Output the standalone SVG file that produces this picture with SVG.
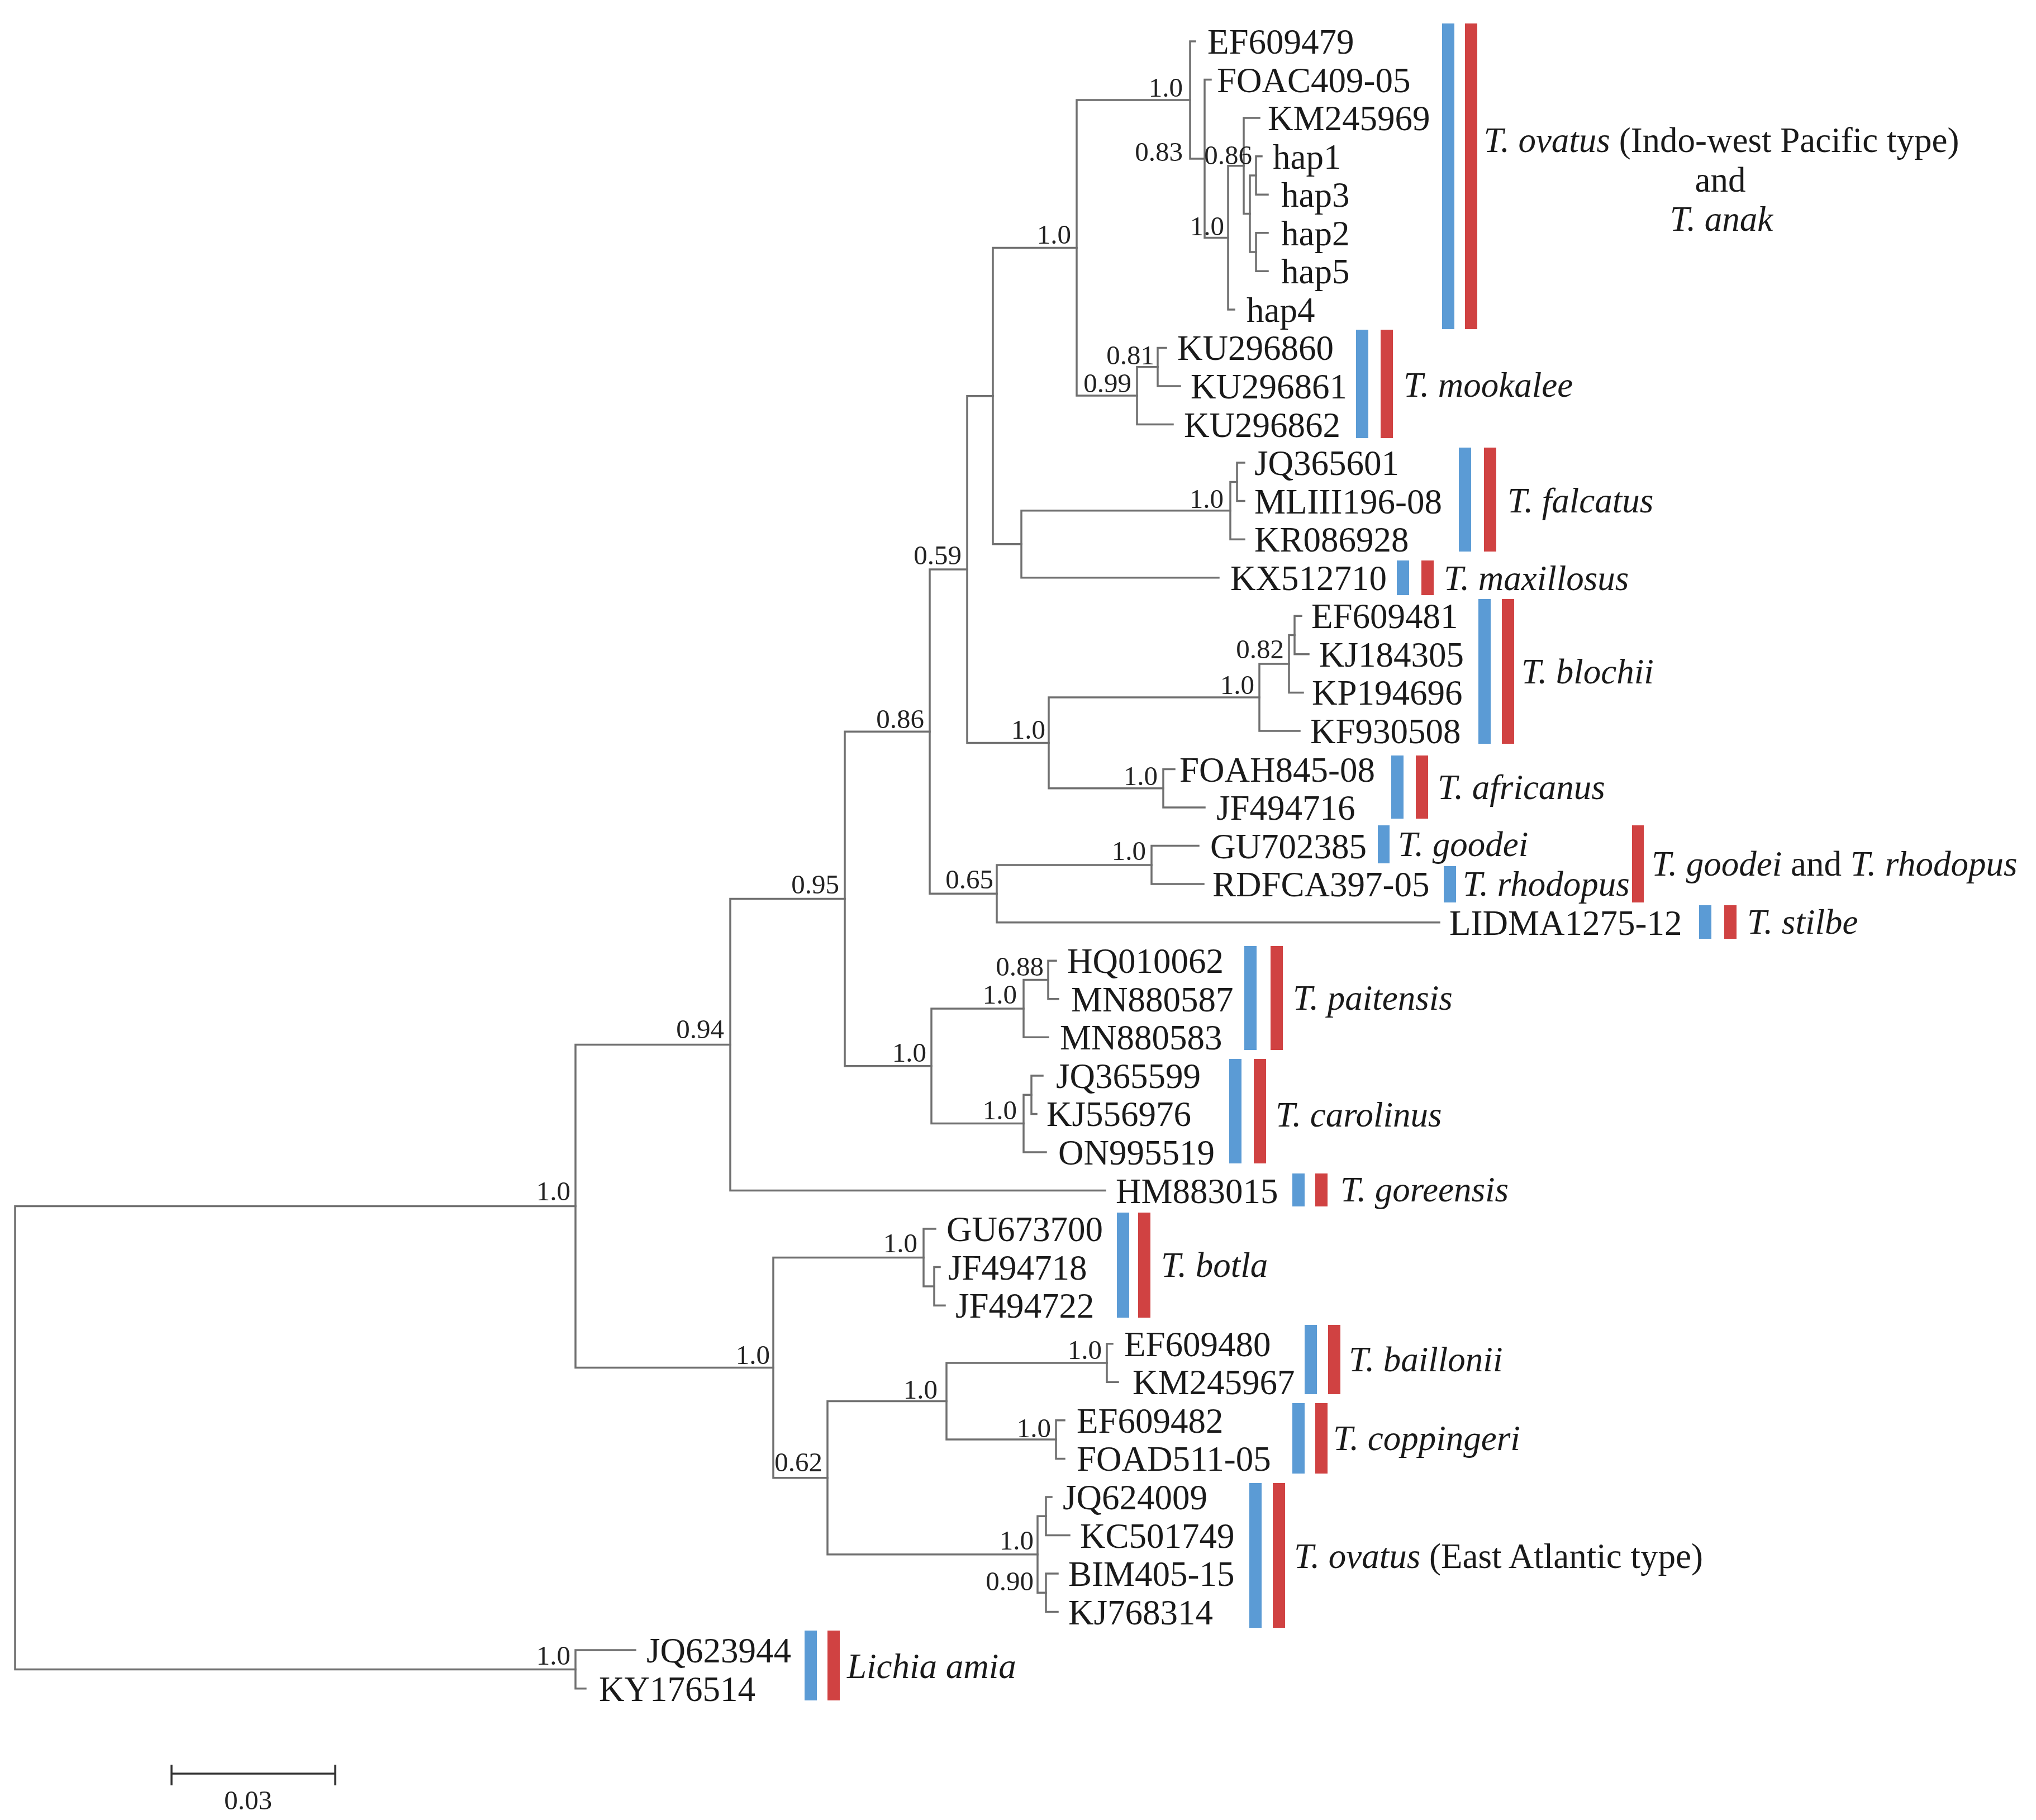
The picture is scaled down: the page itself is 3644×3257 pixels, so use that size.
<svg xmlns="http://www.w3.org/2000/svg" width="3644" height="3257" viewBox="0 0 3644 3257">
<style>
.t{font-family:"Liberation Serif","Times New Roman",serif;font-size:63px;fill:#1a1a1a}
.s{font-family:"Liberation Serif","Times New Roman",serif;font-size:49px;fill:#222;text-anchor:end}
.i{font-style:italic}
.b{fill:#5b9bd5}
.r{fill:#d04242}
.br{fill:none;stroke:#707070;stroke-width:3.5;stroke-linecap:square}
</style>
<rect width="3644" height="3257" fill="#fff"/>
<g id="connectors" class="br">
<path d="M27 2158.6V2987.4M27 2158.6H1030M27 2987.4H1030"/>
<path d="M1030 2953.1V3021.7M1030 2953.1H1137M1030 3021.7H1048"/>
<path d="M1030 1869.5V2447.6M1030 1869.5H1307M1030 2447.6H1384"/>
<path d="M1307 1608.5V2130.5M1307 1608.5H1512M1307 2130.5H1978"/>
<path d="M1512 1309.2V1907.7M1512 1309.2H1664M1512 1907.7H1667"/>
<path d="M1664 1019V1599.3M1664 1019H1731M1664 1599.3H1784"/>
<path d="M1731 708.7V1329.4M1731 708.7H1777M1731 1329.4H1877"/>
<path d="M1777 443.6V973.8M1777 443.6H1927M1777 973.8H1828"/>
<path d="M1927 179V708.1M1927 179H2130M1927 708.1H2035"/>
<path d="M2130 74V284M2130 74H2139M2130 284H2156"/>
<path d="M2156 142.6V425.4M2156 142.6H2167M2156 425.4H2198"/>
<path d="M2198 296.8V553.9M2198 296.8H2226M2198 553.9H2209"/>
<path d="M2226 211.1V382.5M2226 211.1H2254M2226 382.5H2237"/>
<path d="M2237 314V451M2237 314H2248M2237 451H2248"/>
<path d="M2248 279.7V348.2M2248 279.7H2258M2248 348.2H2269"/>
<path d="M2248 416.8V485.3M2248 416.8H2269M2248 485.3H2269"/>
<path d="M2035 656.7V759.5M2035 656.7H2072M2035 759.5H2099"/>
<path d="M2072 622.4V691M2072 622.4H2087M2072 691H2112"/>
<path d="M1828 913.8V1033.7M1828 913.8H2202M1828 1033.7H2181"/>
<path d="M2202 862.4V965.2M2202 862.4H2214M2202 965.2H2227"/>
<path d="M2214 828.1V896.6M2214 828.1H2227M2214 896.6H2227"/>
<path d="M1877 1248V1410.8M1877 1248H2254M1877 1410.8H2082"/>
<path d="M2254 1188V1307.9M2254 1188H2307M2254 1307.9H2326"/>
<path d="M2307 1136.6V1239.4M2307 1136.6H2317M2307 1239.4H2332"/>
<path d="M2317 1102.3V1170.8M2317 1102.3H2329M2317 1170.8H2342"/>
<path d="M2082 1376.5V1445M2082 1376.5H2102M2082 1445H2156"/>
<path d="M1784 1547.9V1650.7M1784 1547.9H2061M1784 1650.7H2576"/>
<path d="M2061 1513.6V1582.1M2061 1513.6H2145M2061 1582.1H2154"/>
<path d="M1667 1804.9V2010.6M1667 1804.9H1832M1667 2010.6H1832"/>
<path d="M1832 1753.5V1856.3M1832 1753.5H1876M1832 1856.3H1876"/>
<path d="M1876 1719.2V1787.8M1876 1719.2H1890M1876 1787.8H1894"/>
<path d="M1832 1959.2V2062M1832 1959.2H1846M1832 2062H1872"/>
<path d="M1846 1924.9V1993.4M1846 1924.9H1866M1846 1993.4H1855"/>
<path d="M1384 2250.5V2644.7M1384 2250.5H1653M1384 2644.7H1481"/>
<path d="M1653 2199.1V2301.9M1653 2199.1H1674M1653 2301.9H1672"/>
<path d="M1672 2267.6V2336.2M1672 2267.6H1682M1672 2336.2H1691"/>
<path d="M1481 2507.6V2781.8M1481 2507.6H1694M1481 2781.8H1857"/>
<path d="M1694 2439V2576.1M1694 2439H1981M1694 2576.1H1890"/>
<path d="M1981 2404.7V2473.3M1981 2404.7H1991M1981 2473.3H2001"/>
<path d="M1890 2541.8V2610.4M1890 2541.8H1905M1890 2610.4H1905"/>
<path d="M1857 2713.2V2850.3M1857 2713.2H1872M1857 2850.3H1872"/>
<path d="M1872 2678.9V2747.5M1872 2678.9H1882M1872 2747.5H1914"/>
<path d="M1872 2816V2884.6M1872 2816H1893M1872 2884.6H1893"/>
</g>
<g id="support-values">
<text class="s" x="1021" y="2148">1.0</text>
<text class="s" x="1021" y="2979">1.0</text>
<text class="s" x="1296" y="1858">0.94</text>
<text class="s" x="1378" y="2441">1.0</text>
<text class="s" x="1502" y="1599">0.95</text>
<text class="s" x="1654" y="1303">0.86</text>
<text class="s" x="1658" y="1900">1.0</text>
<text class="s" x="1721" y="1010">0.59</text>
<text class="s" x="1778" y="1590">0.65</text>
<text class="s" x="1917" y="436">1.0</text>
<text class="s" x="1871" y="1322">1.0</text>
<text class="s" x="2117" y="173">1.0</text>
<text class="s" x="2117" y="288">0.83</text>
<text class="s" x="2241" y="294">0.86</text>
<text class="s" x="2191" y="421">1.0</text>
<text class="s" x="2066" y="652">0.81</text>
<text class="s" x="2025" y="702">0.99</text>
<text class="s" x="2190" y="909">1.0</text>
<text class="s" x="2298" y="1178">0.82</text>
<text class="s" x="2245" y="1242">1.0</text>
<text class="s" x="2072" y="1405">1.0</text>
<text class="s" x="2051" y="1539">1.0</text>
<text class="s" x="1868" y="1746">0.88</text>
<text class="s" x="1820" y="1796">1.0</text>
<text class="s" x="1820" y="2003">1.0</text>
<text class="s" x="1642" y="2241">1.0</text>
<text class="s" x="1678" y="2503">1.0</text>
<text class="s" x="1972" y="2432">1.0</text>
<text class="s" x="1881" y="2572">1.0</text>
<text class="s" x="1472" y="2633">0.62</text>
<text class="s" x="1850" y="2773">1.0</text>
<text class="s" x="1850" y="2846">0.90</text>
</g>
<g id="leaf-EF609479"><text class="t" x="2161" y="96">EF609479</text></g>
<g id="leaf-FOAC409-05"><text class="t" x="2178" y="164.6">FOAC409-05</text></g>
<g id="leaf-KM245969"><text class="t" x="2269" y="233.1">KM245969</text></g>
<g id="leaf-hap1"><text class="t" x="2278" y="301.7">hap1</text></g>
<g id="leaf-hap3"><text class="t" x="2293" y="370.2">hap3</text></g>
<g id="leaf-hap2"><text class="t" x="2293" y="438.8">hap2</text></g>
<g id="leaf-hap5"><text class="t" x="2293" y="507.3">hap5</text></g>
<g id="leaf-hap4"><text class="t" x="2231" y="575.9">hap4</text></g>
<g id="leaf-KU296860"><text class="t" x="2107" y="644.4">KU296860</text></g>
<g id="leaf-KU296861"><text class="t" x="2131" y="713">KU296861</text></g>
<g id="leaf-KU296862"><text class="t" x="2119" y="781.5">KU296862</text></g>
<g id="leaf-JQ365601"><text class="t" x="2245" y="850.1">JQ365601</text></g>
<g id="leaf-MLIII196-08"><text class="t" x="2245" y="918.6">MLIII196-08</text></g>
<g id="leaf-KR086928"><text class="t" x="2245" y="987.2">KR086928</text></g>
<g id="leaf-KX512710"><text class="t" x="2202" y="1055.7">KX512710</text></g>
<g id="leaf-EF609481"><text class="t" x="2347" y="1124.3">EF609481</text></g>
<g id="leaf-KJ184305"><text class="t" x="2361" y="1192.8">KJ184305</text></g>
<g id="leaf-KP194696"><text class="t" x="2348" y="1261.4">KP194696</text></g>
<g id="leaf-KF930508"><text class="t" x="2345" y="1329.9">KF930508</text></g>
<g id="leaf-FOAH845-08"><text class="t" x="2111" y="1398.5">FOAH845-08</text></g>
<g id="leaf-JF494716"><text class="t" x="2177" y="1467">JF494716</text></g>
<g id="leaf-GU702385"><text class="t" x="2166" y="1535.6">GU702385</text></g>
<g id="leaf-RDFCA397-05"><text class="t" x="2170" y="1604.1">RDFCA397-05</text></g>
<g id="leaf-LIDMA1275-12"><text class="t" x="2594" y="1672.7">LIDMA1275-12</text></g>
<g id="leaf-HQ010062"><text class="t" x="1910" y="1741.2">HQ010062</text></g>
<g id="leaf-MN880587"><text class="t" x="1917" y="1809.8">MN880587</text></g>
<g id="leaf-MN880583"><text class="t" x="1897" y="1878.3">MN880583</text></g>
<g id="leaf-JQ365599"><text class="t" x="1890" y="1946.9">JQ365599</text></g>
<g id="leaf-KJ556976"><text class="t" x="1873" y="2015.4">KJ556976</text></g>
<g id="leaf-ON995519"><text class="t" x="1894" y="2084">ON995519</text></g>
<g id="leaf-HM883015"><text class="t" x="1997" y="2152.5">HM883015</text></g>
<g id="leaf-GU673700"><text class="t" x="1694" y="2221.1">GU673700</text></g>
<g id="leaf-JF494718"><text class="t" x="1697" y="2289.6">JF494718</text></g>
<g id="leaf-JF494722"><text class="t" x="1710" y="2358.2">JF494722</text></g>
<g id="leaf-EF609480"><text class="t" x="2012" y="2426.7">EF609480</text></g>
<g id="leaf-KM245967"><text class="t" x="2027" y="2495.3">KM245967</text></g>
<g id="leaf-EF609482"><text class="t" x="1927" y="2563.8">EF609482</text></g>
<g id="leaf-FOAD511-05"><text class="t" x="1927" y="2632.4">FOAD511-05</text></g>
<g id="leaf-JQ624009"><text class="t" x="1902" y="2700.9">JQ624009</text></g>
<g id="leaf-KC501749"><text class="t" x="1933" y="2769.5">KC501749</text></g>
<g id="leaf-BIM405-15"><text class="t" x="1912" y="2838">BIM405-15</text></g>
<g id="leaf-KJ768314"><text class="t" x="1912" y="2906.6">KJ768314</text></g>
<g id="leaf-JQ623944"><text class="t" x="1157" y="2975.1">JQ623944</text></g>
<g id="leaf-KY176514"><text class="t" x="1072" y="3043.7">KY176514</text></g>
<g id="clade-ovatus-IWP">
<rect class="b" x="2581" y="42" width="22" height="547"/><rect class="r" x="2622" y="42" width="22" height="547"/>
<text class="t" x="3081" y="272" text-anchor="middle"><tspan class="i">T. ovatus</tspan> (Indo-west Pacific type)</text>
<text class="t" x="3079" y="343" text-anchor="middle">and</text>
<text class="t i" x="3081" y="413" text-anchor="middle">T. anak</text>
</g>
<g id="clade-mookalee"><rect class="b" x="2427" y="590" width="22" height="194"/><rect class="r" x="2471" y="590" width="22" height="194"/><text class="t i" x="2512" y="710">T. mookalee</text></g>
<g id="clade-falcatus"><rect class="b" x="2611" y="801" width="22" height="186"/><rect class="r" x="2656" y="801" width="22" height="186"/><text class="t i" x="2698" y="917">T. falcatus</text></g>
<g id="clade-maxillosus"><rect class="b" x="2500" y="1003" width="22" height="62"/><rect class="r" x="2544" y="1003" width="22" height="62"/><text class="t i" x="2584" y="1056">T. maxillosus</text></g>
<g id="clade-blochii"><rect class="b" x="2646" y="1072" width="22" height="259"/><rect class="r" x="2688" y="1072" width="22" height="259"/><text class="t i" x="2723" y="1223">T. blochii</text></g>
<g id="clade-africanus"><rect class="b" x="2490" y="1352" width="22" height="113"/><rect class="r" x="2534" y="1352" width="22" height="113"/><text class="t i" x="2573" y="1430">T. africanus</text></g>
<g id="clade-goodei"><rect class="b" x="2466" y="1477" width="21" height="68"/><text class="t i" x="2502" y="1532">T. goodei</text></g>
<g id="clade-rhodopus"><rect class="b" x="2584" y="1550" width="22" height="65"/><text class="t i" x="2618" y="1603">T. rhodopus</text></g>
<g id="clade-goodei-rhodopus"><rect class="r" x="2921" y="1477" width="21" height="138"/><text class="t" x="2956" y="1567"><tspan class="i">T. goodei</tspan> and <tspan class="i">T. rhodopus</tspan></text></g>
<g id="clade-stilbe"><rect class="b" x="3041" y="1620" width="22" height="60"/><rect class="r" x="3086" y="1620" width="22" height="60"/><text class="t i" x="3127" y="1671">T. stilbe</text></g>
<g id="clade-paitensis"><rect class="b" x="2227" y="1693" width="22" height="186"/><rect class="r" x="2274" y="1693" width="22" height="186"/><text class="t i" x="2314" y="1807">T. paitensis</text></g>
<g id="clade-carolinus"><rect class="b" x="2200" y="1895" width="22" height="187"/><rect class="r" x="2244" y="1895" width="22" height="187"/><text class="t i" x="2283" y="2016">T. carolinus</text></g>
<g id="clade-goreensis"><rect class="b" x="2313" y="2100" width="22" height="59"/><rect class="r" x="2354" y="2100" width="22" height="59"/><text class="t i" x="2399" y="2150">T. goreensis</text></g>
<g id="clade-botla"><rect class="b" x="1999" y="2170" width="22" height="188"/><rect class="r" x="2037" y="2170" width="22" height="188"/><text class="t i" x="2078" y="2285">T. botla</text></g>
<g id="clade-baillonii"><rect class="b" x="2335" y="2371" width="22" height="124"/><rect class="r" x="2377" y="2371" width="22" height="124"/><text class="t i" x="2414" y="2454">T. baillonii</text></g>
<g id="clade-coppingeri"><rect class="b" x="2313" y="2511" width="22" height="126"/><rect class="r" x="2354" y="2511" width="22" height="126"/><text class="t i" x="2386" y="2595">T. coppingeri</text></g>
<g id="clade-ovatus-EA"><rect class="b" x="2236" y="2654" width="22" height="259"/><rect class="r" x="2278" y="2654" width="22" height="259"/><text class="t" x="2316" y="2806"><tspan class="i">T. ovatus</tspan> (East Atlantic type)</text></g>
<g id="clade-lichia"><rect class="b" x="1440" y="2918" width="22" height="125"/><rect class="r" x="1481" y="2918" width="22" height="125"/><text class="t i" x="1516" y="3003">Lichia amia</text></g>
<g id="scale-bar">
<path d="M307 3174H600M307 3158V3195M600 3158V3195" fill="none" stroke="#333" stroke-width="3.5"/>
<text x="444" y="3238" text-anchor="middle" font-family="Liberation Serif, Times New Roman, serif" font-size="49" fill="#222">0.03</text>
</g>
</svg>
